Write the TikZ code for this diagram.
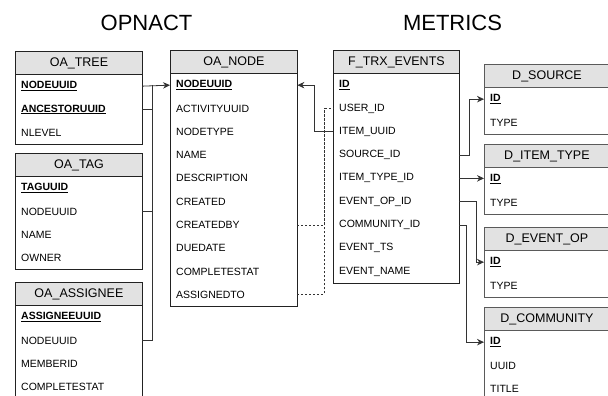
\documentclass[tikz,border=0pt]{standalone}
\usepackage{fontspec}
\setmainfont{Liberation Sans}
\usetikzlibrary{arrows.meta,calc}
\definecolor{hdrfill}{HTML}{E2E2E2}
\definecolor{mainline}{HTML}{222222}
\definecolor{dimline}{HTML}{5A5A5A}
\definecolor{connline}{HTML}{333333}
\newcommand\pk[1]{\underline{\textbf{#1}}}
\tikzset{
  hdr/.style={draw=#1, fill=hdrfill, line width=0.9pt, minimum height=23.3pt, inner sep=0pt,
    anchor=north west, font=\fontsize{12.5}{14}\selectfont},
  rowc/.style={draw=none, minimum height=23.3pt, inner xsep=6pt, inner ysep=0pt, align=left,
    anchor=north west, font=\fontsize{10.5}{12}\selectfont},
  conn/.style={draw=connline, line width=0.8pt},
  arr/.style={-{Stealth[length=7pt,width=6.5pt]}},
  dconn/.style={draw=connline, line width=0.8pt, dash pattern=on 2pt off 2pt},
  ttl/.style={font=\fontsize{22}{26}\selectfont},
}
\newcommand\dbtbl[7]{% name, x, y, width, border colour, title, rows
  \node[hdr=#5, minimum width=#4pt] (#1-h) at (#2,#3) {#6};
  \pgfmathsetmacro\tw{#4-12}
  \foreach \r [count=\i] in {#7} {
    \pgfmathsetmacro\ry{#3+23.3*\i}
    \node[rowc, text width=\tw pt] (#1-\i) at (#2,\ry) {\r};
    \xdef\lastrow{\i}
  }
  \draw[draw=#5, line width=0.9pt] (#1-h.north west) rectangle (#1-\lastrow.south east);
}
\begin{document}
\begin{tikzpicture}[x=1pt,y=-1pt]
\useasboundingbox (0,0) rectangle (608,396);
\clip (0,0) rectangle (608,396);
\node[ttl] (t1) at (146.5,22.5) {OPNACT};
\node[ttl] (t2) at (452.5,22.5) {METRICS};

\dbtbl{tree}{15}{51}{127}{mainline}{OA\_TREE}{\pk{NODEUUID},\pk{ANCESTORUUID},NLEVEL}
\dbtbl{tag}{15}{153}{127}{mainline}{OA\_TAG}{\pk{TAGUUID},NODEUUID,NAME,OWNER}
\dbtbl{asg}{15}{282}{127}{mainline}{OA\_ASSIGNEE}{\pk{ASSIGNEEUUID},NODEUUID,MEMBERID,COMPLETESTAT}
\dbtbl{node}{170}{50}{127}{mainline}{OA\_NODE}{\pk{NODEUUID},ACTIVITYUUID,NODETYPE,NAME,DESCRIPTION,CREATED,CREATEDBY,DUEDATE,COMPLETESTAT,ASSIGNEDTO}
\dbtbl{trx}{333}{50}{126}{mainline}{F\_TRX\_EVENTS}{\pk{ID},USER\_ID,ITEM\_UUID,SOURCE\_ID,ITEM\_TYPE\_ID,EVENT\_OP\_ID,COMMUNITY\_ID,EVENT\_TS,EVENT\_NAME}
\dbtbl{src}{484}{64}{125}{dimline}{D\_SOURCE}{\pk{ID},TYPE}
\dbtbl{ity}{484}{144}{125}{dimline}{D\_ITEM\_TYPE}{\pk{ID},TYPE}
\dbtbl{eop}{484}{227}{125}{dimline}{D\_EVENT\_OP}{\pk{ID},TYPE}
\dbtbl{com}{484}{307}{125}{dimline}{D\_COMMUNITY}{\pk{ID},UUID,TITLE}

% OPNACT links into OA_NODE
\coordinate (trunk) at (152,0 |- node-1.west);
\draw[conn,arr] (tree-1.east) -- (node-1.west);
\draw[conn] (tree-2.east) -| (trunk);
\draw[conn] (tag-2.east) -| (trunk);
\draw[conn] (asg-2.east) -| (trunk);

% F_TRX_EVENTS.ITEM_UUID -> OA_NODE.NODEUUID
\draw[conn,arr] (trx-3.west) -- ++(-19,0) |- (node-1.east);

% dashed user links
\coordinate (dj) at ($(trx-2.west)+(-9,0)$);
\draw[dconn] (node-7.east) -| (dj) -- (trx-2.west);
\draw[dconn] (node-10.east) -| (dj);

% dimension links
\draw[conn,arr] (trx-4.east) -- ++(10,0) |- (src-1.west);
\draw[conn,arr] (trx-5.east) -- (ity-1.west |- trx-5.east);
\draw[conn,arr] (trx-6.east) -- ++(17,0) |- (eop-1.west);
\draw[conn,arr] (trx-7.east) -- ++(7,0) |- (com-1.west);
\end{tikzpicture}
\end{document}
